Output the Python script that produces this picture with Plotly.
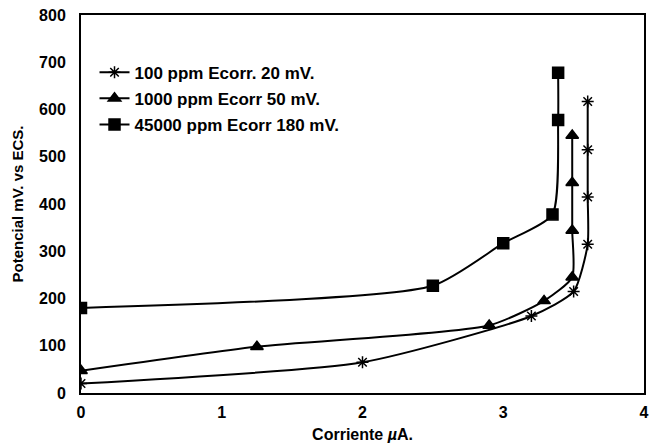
import plotly.graph_objects as go

# Polarization curves: potential (mV vs ECS) against current (µA)
names = ["100 ppm Ecorr. 20 mV.", "1000 ppm Ecorr 50 mV.", "45000 ppm Ecorr 180 mV."]

i_100 = [0.0, 2.0, 3.2, 3.5, 3.6, 3.6, 3.6, 3.6]
e_100 = [20, 65, 163, 215, 315, 415, 515, 617]

i_1000 = [0.0, 1.25, 2.9, 3.29, 3.49, 3.49, 3.49, 3.49]
e_1000 = [47, 98, 143, 195, 245, 344, 445, 545]

i_45000 = [0.0, 2.5, 3.0, 3.35, 3.39, 3.39]
e_45000 = [180, 227, 317, 378, 578, 678]

x_ticks = [0, 1, 2, 3, 4]
y_ticks = [0, 100, 200, 300, 400, 500, 600, 700, 800]

series = [
    (i_100, e_100, "asterisk-open", 10),
    (i_1000, e_1000, "triangle-up", 11),
    (i_45000, e_45000, "square", 11),
]

fig = go.Figure()
for k, (name, (xs, ys, sym, size)) in enumerate(zip(names, series)):
    fig.add_trace(go.Scatter(
        x=xs, y=ys, name=name, mode="lines+markers", legendgroup=f"g{k}",
        line=dict(color="black", width=2, shape="spline", smoothing=0.6),
        marker=dict(symbol=sym, size=size, color="black",
                    line=dict(color="black", width=1.5)),
    ))

font = dict(family="Liberation Sans, Arial, sans-serif", size=16, color="black", weight="bold")
transparent = "rgba(0,0,0,0)"

fig.update_layout(
    width=656, height=448,
    margin=dict(l=81, r=7, t=15, b=54),
    paper_bgcolor="white", plot_bgcolor="white",
    font=font,
    showlegend=True,
    legend=dict(x=0.024, y=0.895, xanchor="left", yanchor="top",
                bgcolor=transparent, font=dict(size=17),
                tracegroupgap=1),
    xaxis=dict(range=[0, 4], tickvals=x_ticks, showgrid=False, zeroline=False,
               showline=True, linecolor="black", linewidth=2, mirror=True,
               ticks="outside", ticklen=4, tickcolor=transparent,
               tickfont=dict(size=16),
               title=dict(text="Corriente <i>µ</i>A.", font=dict(size=16), standoff=9)),
    yaxis=dict(range=[0, 800], tickvals=y_ticks, showgrid=False, zeroline=False,
               showline=True, linecolor="black", linewidth=2, mirror=True,
               ticks="outside", ticklen=10, tickcolor=transparent,
               tickfont=dict(size=16),
               title=dict(text="Potencial mV. vs ECS.", font=dict(size=15), standoff=12)),
)

fig.write_html("out.html")
